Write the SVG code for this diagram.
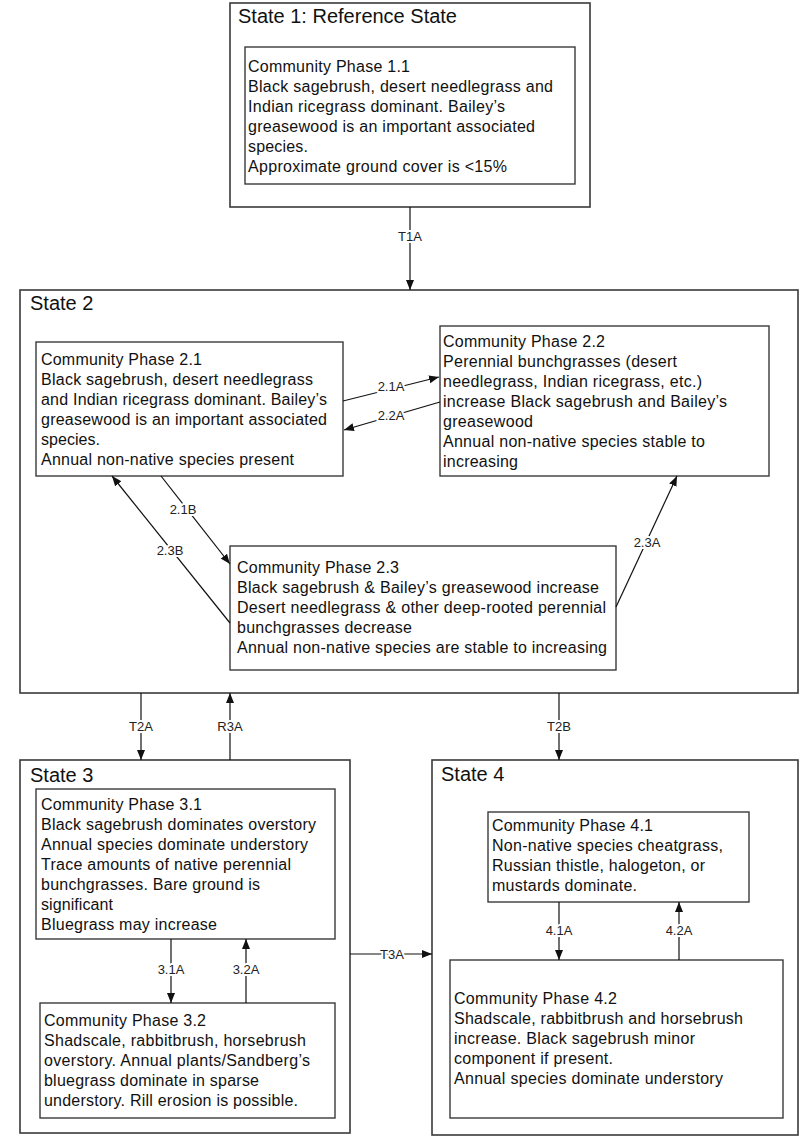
<svg xmlns="http://www.w3.org/2000/svg" width="800" height="1137" viewBox="0 0 800 1137">
<style>
.state{fill:#fff;stroke:#3a3a3a;stroke-width:1.6}
.phase{fill:#fff;stroke:#3a3a3a;stroke-width:1.4}
.title{font-family:"Liberation Sans",Arial,sans-serif;font-size:20px;fill:#111}
.t{font-family:"Liberation Sans",Arial,sans-serif;font-size:16px;fill:#111}
.conn{stroke:#111;stroke-width:1.2;fill:none}
.lbl{font-family:"Liberation Sans",Arial,sans-serif;font-size:13px;fill:#222;text-anchor:middle;paint-order:stroke;stroke:#fff;stroke-width:4px;stroke-linejoin:round}
</style>
<defs>
<marker id="ah" viewBox="0 0 10 10" refX="10" refY="5" markerWidth="10" markerHeight="10" markerUnits="userSpaceOnUse" orient="auto">
<path d="M0,1 L10,5 L0,9 z" fill="#111"/>
</marker>
</defs>
<rect width="800" height="1137" fill="#fff"/>

<g id="state1">
<rect class="state" x="230" y="3" width="360" height="204"/>
<text class="title" x="238" y="23" textLength="219" lengthAdjust="spacingAndGlyphs">State 1: Reference State</text>
</g>
<g id="phase11">
<rect class="phase" x="245" y="47" width="330" height="137"/>
<text class="t" x="248" y="72" textLength="162" lengthAdjust="spacing">Community Phase 1.1</text>
<text class="t" x="248" y="92" textLength="305" lengthAdjust="spacing">Black sagebrush, desert needlegrass and</text>
<text class="t" x="248" y="112" textLength="257" lengthAdjust="spacing">Indian ricegrass dominant. Bailey’s</text>
<text class="t" x="248" y="132" textLength="287" lengthAdjust="spacing">greasewood is an important associated</text>
<text class="t" x="248" y="152" textLength="60" lengthAdjust="spacing">species.</text>
<text class="t" x="248" y="172" textLength="259" lengthAdjust="spacing">Approximate ground cover is &lt;15%</text>
</g>

<g id="state2">
<rect class="state" x="20" y="290" width="778" height="403"/>
<text class="title" x="30" y="310">State 2</text>
</g>
<g id="phase21">
<rect class="phase" x="36" y="342" width="307" height="134"/>
<text class="t" x="41" y="365" textLength="161" lengthAdjust="spacing">Community Phase 2.1</text>
<text class="t" x="41" y="385" textLength="272" lengthAdjust="spacing">Black sagebrush, desert needlegrass</text>
<text class="t" x="41" y="405" textLength="286" lengthAdjust="spacing">and Indian ricegrass dominant. Bailey’s</text>
<text class="t" x="41" y="425" textLength="286" lengthAdjust="spacing">greasewood is an important associated</text>
<text class="t" x="41" y="445" textLength="59" lengthAdjust="spacing">species.</text>
<text class="t" x="41" y="465" textLength="253" lengthAdjust="spacing">Annual non-native species present</text>
</g>
<g id="phase22">
<rect class="phase" x="440" y="326" width="329" height="150"/>
<text class="t" x="443" y="347" textLength="162" lengthAdjust="spacing">Community Phase 2.2</text>
<text class="t" x="443" y="367" textLength="234" lengthAdjust="spacing">Perennial bunchgrasses (desert</text>
<text class="t" x="443" y="387" textLength="259" lengthAdjust="spacing">needlegrass, Indian ricegrass, etc.)</text>
<text class="t" x="443" y="407" textLength="284" lengthAdjust="spacing">increase Black sagebrush and Bailey’s</text>
<text class="t" x="443" y="427" textLength="90" lengthAdjust="spacing">greasewood</text>
<text class="t" x="443" y="447" textLength="262" lengthAdjust="spacing">Annual non-native species stable to</text>
<text class="t" x="443" y="467" textLength="75" lengthAdjust="spacing">increasing</text>
</g>
<g id="phase23">
<rect class="phase" x="230" y="546" width="386" height="124"/>
<text class="t" x="237" y="573" textLength="162" lengthAdjust="spacing">Community Phase 2.3</text>
<text class="t" x="237" y="593" textLength="362" lengthAdjust="spacing">Black sagebrush &amp; Bailey’s greasewood increase</text>
<text class="t" x="237" y="613" textLength="369" lengthAdjust="spacing">Desert needlegrass &amp; other deep-rooted perennial</text>
<text class="t" x="237" y="633" textLength="175" lengthAdjust="spacing">bunchgrasses decrease</text>
<text class="t" x="237" y="653" textLength="370" lengthAdjust="spacing">Annual non-native species are stable to increasing</text>
</g>

<g id="state3">
<rect class="state" x="20" y="760" width="330" height="373"/>
<text class="title" x="30" y="782">State 3</text>
</g>
<g id="phase31">
<rect class="phase" x="36" y="789" width="299" height="150"/>
<text class="t" x="41" y="810" textLength="161" lengthAdjust="spacing">Community Phase 3.1</text>
<text class="t" x="41" y="830" textLength="275" lengthAdjust="spacing">Black sagebrush dominates overstory</text>
<text class="t" x="41" y="850" textLength="267" lengthAdjust="spacing">Annual species dominate understory</text>
<text class="t" x="41" y="870" textLength="250" lengthAdjust="spacing">Trace amounts of native perennial</text>
<text class="t" x="41" y="890" textLength="219" lengthAdjust="spacing">bunchgrasses. Bare ground is</text>
<text class="t" x="41" y="910" textLength="72" lengthAdjust="spacing">significant</text>
<text class="t" x="41" y="930" textLength="176" lengthAdjust="spacing">Bluegrass may increase</text>
</g>
<g id="phase32">
<rect class="phase" x="40" y="1003" width="295" height="115"/>
<text class="t" x="44" y="1026" textLength="162" lengthAdjust="spacing">Community Phase 3.2</text>
<text class="t" x="44" y="1046" textLength="262" lengthAdjust="spacing">Shadscale, rabbitbrush, horsebrush</text>
<text class="t" x="44" y="1066" textLength="266" lengthAdjust="spacing">overstory. Annual plants/Sandberg’s</text>
<text class="t" x="44" y="1086" textLength="215" lengthAdjust="spacing">bluegrass dominate in sparse</text>
<text class="t" x="44" y="1106" textLength="254" lengthAdjust="spacing">understory. Rill erosion is possible.</text>
</g>

<g id="state4">
<rect class="state" x="432" y="760" width="366" height="375"/>
<text class="title" x="441" y="781">State 4</text>
</g>
<g id="phase41">
<rect class="phase" x="488" y="812" width="261" height="90"/>
<text class="t" x="492" y="831" textLength="161" lengthAdjust="spacing">Community Phase 4.1</text>
<text class="t" x="492" y="851" textLength="231" lengthAdjust="spacing">Non-native species cheatgrass,</text>
<text class="t" x="492" y="871" textLength="213" lengthAdjust="spacing">Russian thistle, halogeton, or</text>
<text class="t" x="492" y="891" textLength="145" lengthAdjust="spacing">mustards dominate.</text>
</g>
<g id="phase42">
<rect class="phase" x="450" y="960" width="333" height="158"/>
<text class="t" x="454" y="1004" textLength="163" lengthAdjust="spacing">Community Phase 4.2</text>
<text class="t" x="454" y="1024" textLength="289" lengthAdjust="spacing">Shadscale, rabbitbrush and horsebrush</text>
<text class="t" x="454" y="1044" textLength="241" lengthAdjust="spacing">increase. Black sagebrush minor</text>
<text class="t" x="454" y="1064" textLength="159" lengthAdjust="spacing">component if present.</text>
<text class="t" x="454" y="1084" textLength="269" lengthAdjust="spacing">Annual species dominate understory</text>
</g>

<g id="connectors">
<line class="conn" x1="410" y1="207" x2="410" y2="290" marker-end="url(#ah)"/>
<text class="lbl" x="410" y="241">T1A</text>

<line class="conn" x1="343" y1="401" x2="439" y2="377" marker-end="url(#ah)"/>
<text class="lbl" x="391" y="391">2.1A</text>
<line class="conn" x1="440" y1="402" x2="344" y2="430" marker-end="url(#ah)"/>
<text class="lbl" x="391" y="420">2.2A</text>

<line class="conn" x1="161" y1="476" x2="230" y2="564" marker-end="url(#ah)"/>
<text class="lbl" x="183" y="514">2.1B</text>
<line class="conn" x1="230" y1="623" x2="112" y2="476" marker-end="url(#ah)"/>
<text class="lbl" x="170" y="555">2.3B</text>
<line class="conn" x1="616" y1="607" x2="677" y2="476" marker-end="url(#ah)"/>
<text class="lbl" x="647" y="547">2.3A</text>

<line class="conn" x1="141" y1="693" x2="141" y2="760" marker-end="url(#ah)"/>
<text class="lbl" x="141" y="731">T2A</text>
<line class="conn" x1="230" y1="760" x2="230" y2="693" marker-end="url(#ah)"/>
<text class="lbl" x="230" y="731">R3A</text>
<line class="conn" x1="559" y1="693" x2="559" y2="760" marker-end="url(#ah)"/>
<text class="lbl" x="559" y="731">T2B</text>

<line class="conn" x1="171" y1="939" x2="171" y2="1003" marker-end="url(#ah)"/>
<text class="lbl" x="171" y="974">3.1A</text>
<line class="conn" x1="246" y1="1003" x2="246" y2="939" marker-end="url(#ah)"/>
<text class="lbl" x="246" y="974">3.2A</text>

<line class="conn" x1="350" y1="954" x2="432" y2="954" marker-end="url(#ah)"/>
<text class="lbl" x="392" y="959">T3A</text>

<line class="conn" x1="559" y1="902" x2="559" y2="960" marker-end="url(#ah)"/>
<text class="lbl" x="559" y="935">4.1A</text>
<line class="conn" x1="679" y1="960" x2="679" y2="902" marker-end="url(#ah)"/>
<text class="lbl" x="679" y="935">4.2A</text>
</g>
</svg>
